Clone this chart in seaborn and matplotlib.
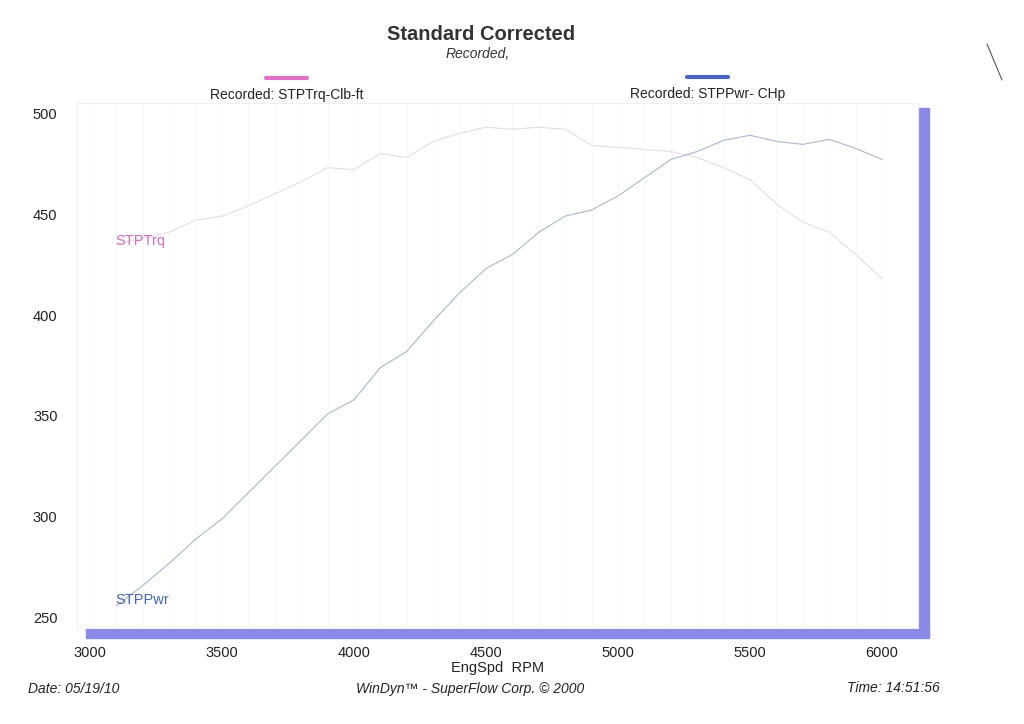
import numpy as np
import pandas as pd
import matplotlib
matplotlib.use("Agg")
import matplotlib.pyplot as plt
from matplotlib.patches import Rectangle
from matplotlib.lines import Line2D
import seaborn as sns

# datos (cada 100 rpm)
rpm = [3100, 3200, 3300, 3400, 3500, 3600, 3700, 3800, 3900, 4000,
       4100, 4200, 4300, 4400, 4500, 4600, 4700, 4800, 4900, 5000,
       5100, 5200, 5300, 5400, 5500, 5600, 5700, 5800, 5900, 6000]
torque = [435, 438, 441, 447, 449, 454, 460, 466, 473, 472,
          480, 478, 486, 490, 493, 492, 493, 492, 484, 483,
          482, 481, 478, 473, 467, 455, 446, 441, 430, 418]
power = [256, 266, 277, 289, 299, 312, 325, 338, 351, 358,
         374, 382, 397, 411, 423, 430, 441, 449, 452, 459,
         468, 477, 481, 486.5, 489, 486, 484.5, 487, 482.5, 477]
xticks = [3000, 3500, 4000, 4500, 5000, 5500, 6000]
yticks = [250, 300, 350, 400, 450, 500]

df = pd.DataFrame({"rpm": rpm, "torque": torque, "power": power})

sns.set_theme(style="white")
plt.rcParams["font.family"] = ["Liberation Sans", "DejaVu Sans"]

W, H = 1024, 724
fig = plt.figure(figsize=(W / 100, H / 100), dpi=100)
fig.patch.set_facecolor("white")

def fx(px):
    return px / W

def fy(py):
    return 1 - py / H

# sombra azul del marco
blue = "#8a8ae6"
fig.patches.append(Rectangle((fx(918), fy(636)), fx(929) - fx(918), fy(108) - fy(636),
                             transform=fig.transFigure, color=blue, zorder=0))
fig.patches.append(Rectangle((fx(86), fy(638)), fx(929) - fx(86), fy(628) - fy(638),
                             transform=fig.transFigure, color=blue, zorder=0))

ax = fig.add_axes([fx(77), fy(628), fx(918) - fx(77), fy(103) - fy(628)])
ax.set_facecolor("white")
ax.set_zorder(1)

sns.lineplot(data=df, x="rpm", y="torque", ax=ax, color="#e6dce3", linewidth=0.8)
sns.lineplot(data=df, x="rpm", y="power", ax=ax, color="#a8b8cc", linewidth=0.8)

ax.set_xlim(2951, 6136)
ax.set_ylim(245, 505)
ax.set_xticks(xticks)
ax.set_yticks(yticks)
ax.set_xticks(np.arange(3100, 6100, 100), minor=True)
ax.grid(axis="x", which="both", color="#f8f8f8", linewidth=0.6)
ax.tick_params(axis="both", which="both", length=0, labelsize=10.5, colors="#222222")
ax.tick_params(axis="x", pad=13)
ax.tick_params(axis="y", pad=14)
for s in ax.spines.values():
    s.set_color("#f0f0f0")
    s.set_linewidth(0.8)
ax.set_xlabel("EngSpd  RPM", fontsize=10.5, color="#222222", labelpad=1)
ax.set_ylabel("")

ax.text(3095, 436.5, "STPTrq", color="#d66cc4", fontsize=10.5, va="center", ha="left")
ax.text(3095, 259, "STPPwr", color="#4464b4", fontsize=10.5, va="center", ha="left")

# titulos
fig.text(fx(481), fy(34), "Standard Corrected", fontsize=14.5, fontweight="bold",
         color="#333333", ha="center", va="center")
fig.text(fx(478), fy(54), "Recorded,", fontsize=10, style="italic",
         color="#333333", ha="center", va="center")

# leyenda
fig.add_artist(Line2D([fx(266), fx(307)], [fy(78), fy(78)], color="#e070c8", linewidth=3))
fig.text(fx(287), fy(95), "Recorded: STPTrq-Clb-ft", fontsize=10, color="#222222",
         ha="center", va="center")
fig.add_artist(Line2D([fx(687), fx(728)], [fy(77), fy(77)], color="#4a62c0", linewidth=3))
fig.text(fx(708), fy(94), "Recorded: STPPwr- CHp", fontsize=10, color="#222222",
         ha="center", va="center")

# pie
fig.text(fx(28), fy(689), "Date: 05/19/10", fontsize=10, style="italic",
         color="#222222", ha="left", va="center")
fig.text(fx(470), fy(689), "WinDyn\u2122 - SuperFlow Corp. \u00a9 2000", fontsize=10,
         style="italic", color="#222222", ha="center", va="center")
fig.text(fx(940), fy(688), "Time: 14:51:56", fontsize=10, style="italic",
         color="#222222", ha="right", va="center")

# marca del escaner arriba a la derecha
fig.add_artist(Line2D([fx(987), fx(1002)], [fy(44), fy(80)], color="#555555", linewidth=0.8))

fig.savefig("out.png", dpi=100)
